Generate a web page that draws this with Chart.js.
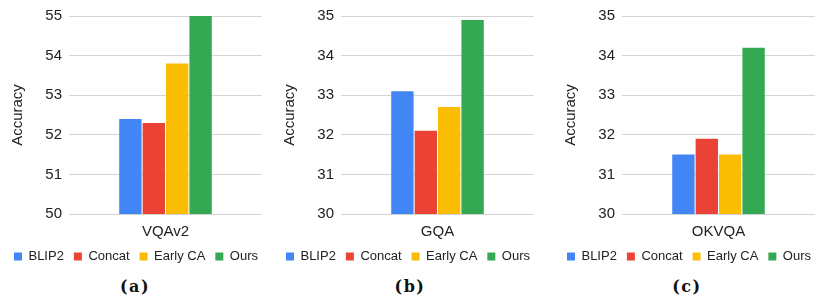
<!DOCTYPE html>
<html>
<head>
<meta charset="utf-8">
<script src="https://cdn.jsdelivr.net/npm/chart.js@4/dist/chart.umd.min.js"></script>
<style>
  html, body { margin: 0; padding: 0; background: #fff; }
  body { width: 816px; height: 301px; position: relative; overflow: hidden; }
  .panel { position: absolute; top: 0; width: 272px; height: 273px; }
  .cap { position: absolute; top: 277px; width: 60px; text-align: center;
         font-family: "DejaVu Serif", serif; font-weight: bold; font-size: 16px;
         letter-spacing: 1.5px; color: #111; }
</style>
</head>
<body>
<div class="panel" style="left:0px"><canvas id="chartA" width="272" height="273"></canvas></div>
<div class="panel" style="left:272px"><canvas id="chartB" width="272" height="273"></canvas></div>
<div class="panel" style="left:553px"><canvas id="chartC" width="272" height="273"></canvas></div>
<div class="cap" style="left:105px">(a)</div>
<div class="cap" style="left:380px">(b)</div>
<div class="cap" style="left:657px">(c)</div>

<script>
var methods = ['BLIP2', 'Concat', 'Early CA', 'Ours'];
var methodColors = ['#4285F4', '#EA4335', '#FBBC04', '#34A853'];

var vqaScores = [52.4, 52.3, 53.8, 55.0];
var gqaScores = [33.1, 32.1, 32.7, 34.9];
var okvqaScores = [31.5, 31.9, 31.5, 34.2];

var txt = '#222222';
var font = 'Arial, "Liberation Sans", sans-serif';

function makeChart(id, dataset, scores, yMin, yMax) {
    var ctx = document.getElementById(id).getContext('2d');
    var sets = methods.map(function (m, i) {
        return {
            label: m,
            data: [scores[i]],
            backgroundColor: methodColors[i],
            borderWidth: 0,
            categoryPercentage: 0.485,
            barPercentage: 0.955
        };
    });
    return new Chart(ctx, {
        type: 'bar',
        data: { labels: [dataset], datasets: sets },
        options: {
            responsive: false,
            animation: false,
            layout: { padding: { left: 0, right: 0, top: 13, bottom: 0 } },
            scales: {
                x: {
                    afterFit: function (scale) { scale.height = 26; },
                    grid: { display: false, drawTicks: false },
                    border: { display: false },
                    ticks: { color: txt, font: { family: font, size: 15 }, padding: 9 }
                },
                y: {
                    min: yMin,
                    max: yMax,
                    afterFit: function (scale) { scale.width = 69; },
                    grid: { color: '#d4d4d4', drawTicks: false },
                    border: { display: false },
                    ticks: { stepSize: 1, color: txt, font: { family: font, size: 15 }, padding: 7 },
                    title: { display: true, text: 'Accuracy', color: txt, padding: { top: 9, bottom: 0 },
                             font: { family: font, size: 15 } }
                },
                // empty right margin so the gridlines stop short of the edge
                yRight: {
                    position: 'right',
                    afterFit: function (scale) { scale.width = 10; },
                    grid: { display: false, drawTicks: false },
                    border: { display: false },
                    ticks: { display: false }
                }
            },
            plugins: {
                legend: {
                    position: 'bottom',
                    labels: { boxWidth: 8, boxHeight: 8, padding: 10, color: txt,
                              font: { family: font, size: 13 } }
                },
                tooltip: { enabled: false }
            }
        }
    });
}

makeChart('chartA', 'VQAv2', vqaScores, 50, 55);
makeChart('chartB', 'GQA', gqaScores, 30, 35);
makeChart('chartC', 'OKVQA', okvqaScores, 30, 35);
</script>
</body>
</html>
